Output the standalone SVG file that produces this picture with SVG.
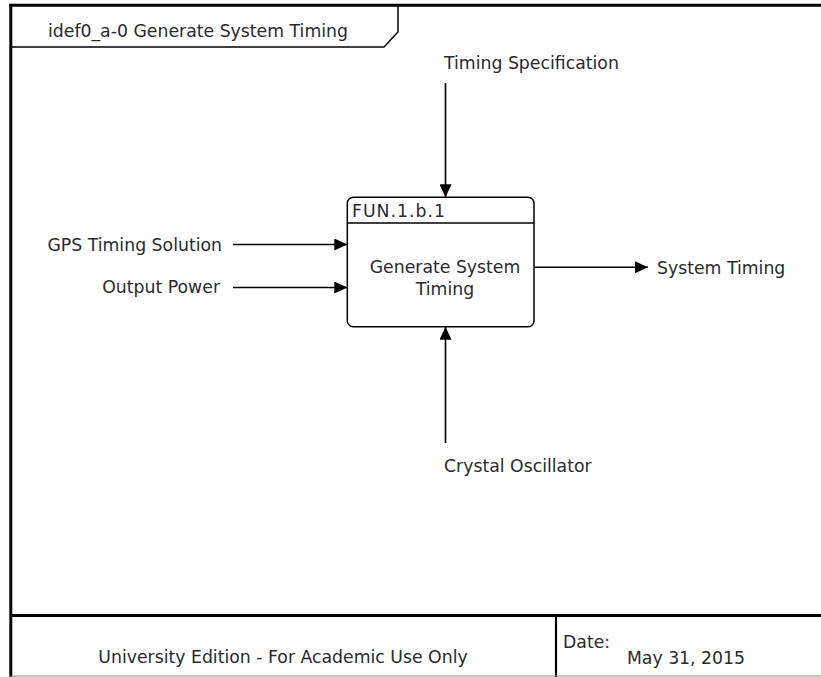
<svg xmlns="http://www.w3.org/2000/svg" width="821" height="677" viewBox="0 0 821 677">
<defs>
<marker id="arr" markerUnits="userSpaceOnUse" markerWidth="14" markerHeight="12" refX="13" refY="6" orient="auto">
<path d="M0,0 L13,6 L0,12 Z" fill="#000"/>
</marker>
<style>
text{font-family:"DejaVu Sans","Liberation Sans",sans-serif;font-size:17.3px;fill:#2a2a2a}
.frame{stroke:#000;stroke-width:3;fill:none}
.thin{stroke:#000;stroke-width:1.5;fill:none}
.conn line{stroke:#000;stroke-width:1.6;marker-end:url(#arr)}
</style>
</defs>
<rect width="821" height="677" fill="#fff"/>
<g id="frame">
<line class="frame" x1="10.8" y1="4" x2="10.8" y2="677"/>
<line class="frame" x1="9.3" y1="5.3" x2="821" y2="5.3"/>
<line class="frame" x1="10" y1="615.5" x2="821" y2="615.5"/>
<line x1="556" y1="615" x2="556" y2="677" stroke="#000" stroke-width="2.2"/>
<line x1="10" y1="676" x2="821" y2="676" stroke="#888" stroke-width="1.2"/>
<path class="thin" d="M398,5 L398,32 L384,47 L11,47"/>
<text x="48" y="37">idef0_a-0 Generate System Timing</text>
<text x="283" y="663" text-anchor="middle">University Edition - For Academic Use Only</text>
<text x="563" y="648">Date:</text>
<text x="686" y="664" text-anchor="middle">May 31, 2015</text>
</g>
<g id="node-fun-1-b-1">
<rect x="347.3" y="197.3" width="186.7" height="129.4" rx="6" class="thin"/>
<line x1="347.3" y1="223" x2="534" y2="223" class="thin"/>
<text x="352" y="217" style="letter-spacing:1px">FUN.1.b.1</text>
<text x="445" y="273" text-anchor="middle">Generate System</text>
<text x="445" y="295" text-anchor="middle">Timing</text>
</g>
<g id="label-timing-spec"><text x="444" y="69">Timing Specification</text></g>
<g id="label-gps"><text x="222" y="251" text-anchor="end">GPS Timing Solution</text></g>
<g id="label-power"><text x="220" y="293" text-anchor="end">Output Power</text></g>
<g id="label-system-timing"><text x="657" y="274">System Timing</text></g>
<g id="label-crystal"><text x="444" y="472">Crystal Oscillator</text></g>
<g id="connectors" class="conn">
<line x1="445.5" y1="83" x2="445.5" y2="197.3"/>
<line x1="233" y1="244.5" x2="347.3" y2="244.5"/>
<line x1="233" y1="287.5" x2="347.3" y2="287.5"/>
<line x1="534" y1="267.3" x2="648" y2="267.3"/>
<line x1="445.5" y1="443" x2="445.5" y2="326.7"/>
</g>
</svg>
